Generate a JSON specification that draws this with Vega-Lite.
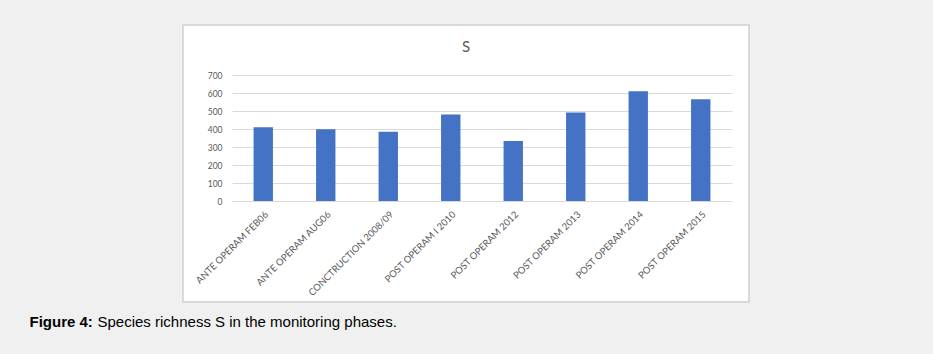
{
  "$schema": "https://vega.github.io/schema/vega-lite/v6.json",
  "autosize": {"type": "none"},
  "width": 566,
  "height": 277,
  "padding": {"left": 183, "top": 25, "right": 184, "bottom": 52},
  "background": "#f0f0f0",
  "config": {
    "view": {"fill": "#ffffff", "stroke": "#d9d9d9", "strokeWidth": 2}
  },
  "title": {
    "text": "S",
    "anchor": "middle",
    "frame": "group",
    "offset": -30,
    "font": "Lato",
    "fontSize": 15,
    "fontWeight": "normal",
    "color": "#595959"
  },
  "data": {
    "values": [
      {"phase": "ANTE OPERAM FEB06", "S": 410},
      {"phase": "ANTE OPERAM AUG06", "S": 398},
      {"phase": "CONCTRUCTION 2008/09", "S": 385},
      {"phase": "POST OPERAM I 2010", "S": 480},
      {"phase": "POST OPERAM 2012", "S": 333},
      {"phase": "POST OPERAM 2013", "S": 492},
      {"phase": "POST OPERAM 2014", "S": 610},
      {"phase": "POST OPERAM 2015", "S": 565}
    ]
  },
  "mark": {"type": "bar", "color": "#4472C4"},
  "encoding": {
    "x": {
      "field": "phase",
      "type": "nominal",
      "sort": null,
      "scale": {"range": [49, 549], "paddingInner": 0.69, "paddingOuter": 0.345},
      "axis": {
        "orient": "bottom",
        "offset": -101,
        "labelAngle": -45,
        "domain": false,
        "ticks": false,
        "grid": false,
        "labelFont": "Lato",
        "labelFontSize": 9.5,
        "labelColor": "#595959",
        "labelPadding": 8,
        "title": "Species richness S in the monitoring phases.",
        "titleX": -86,
        "titleY": 125,
        "titleAlign": "left",
        "titleAnchor": null,
        "titleBaseline": "alphabetic",
        "titleFont": "Liberation Sans",
        "titleFontSize": 15,
        "titleFontWeight": "normal",
        "titleColor": "#000000"
      }
    },
    "y": {
      "field": "S",
      "type": "quantitative",
      "scale": {"domain": [0, 700], "range": [176, 50], "nice": false},
      "axis": {
        "offset": -49,
        "values": [0, 100, 200, 300, 400, 500, 600, 700],
        "domain": false,
        "ticks": false,
        "grid": true,
        "gridColor": "#d9d9d9",
        "gridWidth": 1,
        "labelFont": "Lato",
        "labelFontSize": 8.5,
        "labelColor": "#595959",
        "labelPadding": 10,
        "title": "Figure 4:",
        "titleAngle": 0,
        "titleX": -203,
        "titleY": 301,
        "titleAlign": "left",
        "titleAnchor": null,
        "titleBaseline": "alphabetic",
        "titleFont": "Liberation Sans",
        "titleFontSize": 15,
        "titleFontWeight": "bold",
        "titleColor": "#000000"
      }
    }
  }
}
